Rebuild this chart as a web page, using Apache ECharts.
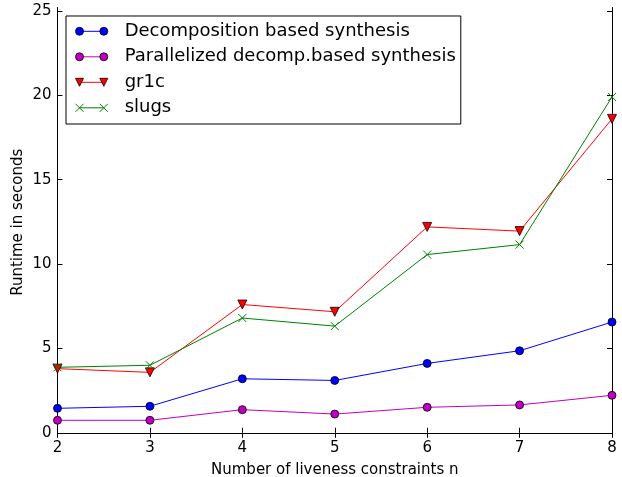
<!DOCTYPE html>
<html>
<head>
<meta charset="utf-8">
<script src="https://cdn.jsdelivr.net/npm/echarts@6/dist/echarts.min.js"></script>
<style>html,body{margin:0;padding:0;background:#fff}#c{width:622px;height:477px}</style>
</head>
<body>
<div id="c"></div>
<script>
var xs = [2, 3, 4, 5, 6, 7, 8];
var decomp = [1.45, 1.57, 3.2, 3.1, 4.11, 4.86, 6.56];
var parallel = [0.74, 0.74, 1.37, 1.11, 1.51, 1.65, 2.22];
var gr1c = [3.8, 3.58, 7.6, 7.17, 12.2, 11.95, 18.6];
var slugs = [3.88, 4.0, 6.8, 6.32, 10.56, 11.15, 19.9];
var names = ['Decomposition based synthesis', 'Parallelized decomp.based synthesis', 'gr1c', 'slugs'];
var xTicks = [2, 3, 4, 5, 6, 7, 8];
var yTicks = [0, 5, 10, 15, 20, 25];

var FONT = 'DejaVu Sans';
function pts(v) { return xs.map(function (x, i) { return [x, v[i]]; }); }

var circleIcon = 'path://M0,4A4,4 0 1,0 8,4A4,4 0 1,0 0,4Z M24.3,4A4,4 0 1,0 32.3,4A4,4 0 1,0 24.3,4Z';
var triIcon = 'path://M0,0L8,0L4,8Z M24.3,0L32.3,0L28.3,8Z';
var xIcon = 'path://M0,0L8,8M8,0L0,8M24.3,0L32.3,8M32.3,0L24.3,8';

var axisLine = { show: true, lineStyle: { color: '#000', width: 1 } };
var tickStyle = { color: '#000', width: 1 };

var option = {
  animation: false,
  backgroundColor: '#fff',
  grid: { left: 57.5, right: 10, top: 7.5, bottom: 40, containLabel: false, outerBoundsMode: 'none' },
  xAxis: [
    {
      type: 'value', min: 2, max: 8, interval: 1, position: 'bottom',
      name: 'Number of liveness constraints n', nameLocation: 'middle', nameGap: 26, nameMoveOverlap: false,
      nameTextStyle: { fontFamily: FONT, fontSize: 15, color: '#000' },
      axisLine: axisLine, splitLine: { show: false },
      axisTick: { show: true, inside: true, length: 5, lineStyle: tickStyle },
      axisLabel: { fontFamily: FONT, fontSize: 15, color: '#000', margin: 4, customValues: xTicks }
    },
    {
      type: 'value', min: 2, max: 8, interval: 1, position: 'top',
      axisLine: axisLine, splitLine: { show: false },
      axisTick: { show: true, inside: true, length: 5, lineStyle: tickStyle },
      axisLabel: { show: false }
    }
  ],
  yAxis: [
    {
      type: 'value', min: -0.25, max: 25.2, position: 'left',
      name: 'Runtime in seconds', nameLocation: 'middle', nameGap: 32, nameMoveOverlap: false,
      nameTextStyle: { fontFamily: FONT, fontSize: 15, color: '#000' },
      axisLine: axisLine, splitLine: { show: false },
      axisLabel: { fontFamily: FONT, fontSize: 15, color: '#000', margin: 6, customValues: yTicks },
      axisTick: { show: true, inside: true, length: 5, customValues: yTicks, lineStyle: tickStyle }
    },
    {
      type: 'value', min: -0.25, max: 25.2, position: 'right',
      axisLine: axisLine, splitLine: { show: false },
      axisLabel: { show: false, customValues: yTicks },
      axisTick: { show: true, inside: true, length: 5, customValues: yTicks, lineStyle: tickStyle }
    }
  ],
  legend: [
    {
      left: 66, top: 16, orient: 'vertical', align: 'left', selectedMode: false, z: 5,
      padding: [5.3, 5, 6.2, 9], itemGap: 5.5, itemWidth: 56, itemHeight: 8,
      borderColor: '#000', borderWidth: 1, backgroundColor: 'transparent', borderRadius: 0,
      textStyle: { fontFamily: FONT, fontSize: 18, color: '#000', lineHeight: 20 },
      data: [
        { name: names[0], icon: circleIcon, itemStyle: { color: '#0000ff', borderColor: '#000', borderWidth: 0.8 } },
        { name: names[1], icon: circleIcon, itemStyle: { color: '#bf00bf', borderColor: '#000', borderWidth: 0.8 } },
        { name: names[2], icon: triIcon, itemStyle: { color: '#ff0000', borderColor: '#000', borderWidth: 0.8 } },
        { name: names[3], icon: xIcon, itemStyle: { color: 'transparent', borderColor: '#008000', borderWidth: 1 } }
      ]
    },
    {
      left: 79, top: 21.3, orient: 'vertical', align: 'left', selectedMode: false, z: 3,
      padding: 0, itemGap: 5.5, itemWidth: 24.3, itemHeight: 1, icon: 'rect',
      textStyle: { fontFamily: FONT, fontSize: 18, color: 'transparent', lineHeight: 20 },
      data: [
        { name: names[0], itemStyle: { color: '#0000ff', borderWidth: 0 } },
        { name: names[1], itemStyle: { color: '#bf00bf', borderWidth: 0 } },
        { name: names[2], itemStyle: { color: '#ff0000', borderWidth: 0 } },
        { name: names[3], itemStyle: { color: '#008000', borderWidth: 0 } }
      ]
    }
  ],
  series: [
    { name: names[0], type: 'line', data: pts(decomp), symbol: 'circle', symbolSize: 8,
      lineStyle: { color: '#0000ff', width: 1 },
      itemStyle: { color: '#0000ff', borderColor: '#000', borderWidth: 0.8 } },
    { name: names[1], type: 'line', data: pts(parallel), symbol: 'circle', symbolSize: 8,
      lineStyle: { color: '#bf00bf', width: 1 },
      itemStyle: { color: '#bf00bf', borderColor: '#000', borderWidth: 0.8 } },
    { name: names[2], type: 'line', data: pts(gr1c), symbol: 'triangle', symbolRotate: 180, symbolSize: 9,
      lineStyle: { color: '#ff0000', width: 1 },
      itemStyle: { color: '#ff0000', borderColor: '#000', borderWidth: 0.8 } },
    { name: names[3], type: 'line', data: pts(slugs), symbol: 'path://M0,0L8,8M8,0L0,8', symbolSize: 8,
      lineStyle: { color: '#008000', width: 1 },
      itemStyle: { color: '#008000', borderColor: '#008000', borderWidth: 1 } }
  ]
};

var chart = echarts.init(document.getElementById('c'), null, { renderer: 'canvas' });
chart.setOption(option);
</script>
</body>
</html>
